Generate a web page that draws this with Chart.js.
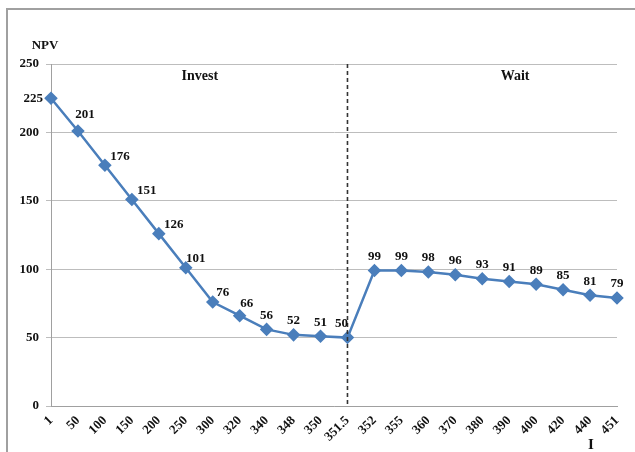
<!DOCTYPE html>
<html>
<head>
<meta charset="utf-8">
<script src="https://cdn.jsdelivr.net/npm/chart.js@4.4.0/dist/chart.umd.min.js"></script>
<style>
  html, body { margin: 0; padding: 0; background: #fff; }
  #frame { position: absolute; left: 6px; top: 8px; width: 629px; height: 444px;
           border-left: 2px solid #a0a0a0; border-top: 2px solid #a0a0a0; box-sizing: border-box; }
  #wrap { position: absolute; left: 0; top: 0; width: 635px; height: 452px; }
</style>
</head>
<body>
<div id="frame"></div>
<div id="wrap"><canvas id="c" width="635" height="452"></canvas></div>
<script>
const categories = ['1','50','100','150','200','250','300','320','340','348','350','351.5','352','355','360','370','380','390','400','420','440','451'];
const npvValues = [225,201,176,151,126,101,76,66,56,52,51,50,99,99,98,96,93,91,89,85,81,79];
const yTicks = [0,50,100,150,200,250];
const splitCategory = '351.5';
const regionLabels = ['Invest','Wait'];
const yAxisTitle = 'NPV';
const xAxisTitle = 'I';

const SERIF = '"Liberation Serif", "Times New Roman", serif';
const lineColor = '#4a7ebb';

const overlay = {
  id: 'overlay',
  afterDatasetsDraw(chart) {
    const ctx = chart.ctx;
    const xs = chart.scales.x;
    const area = chart.chartArea;
    ctx.save();
    // dashed split line
    const sx = xs.getPixelForValue(categories.indexOf(splitCategory));
    ctx.strokeStyle = '#333';
    ctx.lineWidth = 1.6;
    ctx.setLineDash([4, 3]);
    ctx.beginPath();
    ctx.moveTo(sx, area.top);
    ctx.lineTo(sx, area.bottom);
    ctx.stroke();
    ctx.setLineDash([]);

    // data labels
    ctx.fillStyle = '#111';
    ctx.font = 'bold 13px ' + SERIF;
    ctx.textBaseline = 'middle';
    const meta = chart.getDatasetMeta(0);
    const splitIdx = categories.indexOf(splitCategory);
    meta.data.forEach((pt, i) => {
      const v = npvValues[i];
      let x = pt.x, y = pt.y;
      if (i === 0) {
        ctx.textAlign = 'right'; x -= 8;
      } else if (i < splitIdx - 3) {
        ctx.textAlign = 'center';
        const dx = i === 1 ? 7 : (i <= 4 ? 15 : (i <= 6 ? 10 : 7));
        x += dx; y -= (i === 1 ? 16 : (i <= 6 ? 9 : 12));
      } else if (i < splitIdx) {
        ctx.textAlign = 'center'; y -= 14;
      } else if (i === splitIdx) {
        ctx.textAlign = 'center'; x -= 6; y -= 14;
      } else {
        ctx.textAlign = 'center'; y -= 14;
      }
      ctx.fillText(String(v), x, y);
    });

    // region labels
    ctx.font = 'bold 14px ' + SERIF;
    ctx.textAlign = 'center';
    ctx.fillText(regionLabels[0], area.left + (area.right - area.left) * 0.263, area.top + 12);
    ctx.fillText(regionLabels[1], area.left + (area.right - area.left) * 0.82, area.top + 12);

    // axis titles
    ctx.font = 'bold 13px ' + SERIF;
    ctx.fillText(yAxisTitle, area.left - 6, area.top - 18);
    ctx.font = 'bold 15px ' + SERIF;
    ctx.fillText(xAxisTitle, area.right - 26, area.bottom + 39);
    ctx.restore();
  }
};

new Chart(document.getElementById('c'), {
  type: 'line',
  data: {
    labels: categories,
    datasets: [{
      data: npvValues,
      borderColor: lineColor,
      backgroundColor: lineColor,
      borderWidth: 2.5,
      pointStyle: 'rectRot',
      pointRadius: 5,
      pointHoverRadius: 5,
      tension: 0,
      fill: false
    }]
  },
  options: {
    responsive: false,
    animation: false,
    events: [],
    layout: { padding: { top: 64, right: 18, left: 0, bottom: 0 } },
    plugins: { legend: { display: false }, tooltip: { enabled: false } },
    scales: {
      x: {
        offset: false,
        grid: { display: false, drawOnChartArea: false, drawTicks: true, tickLength: 5, color: '#a0a0a0' },
        border: { display: true, color: '#a0a0a0', width: 1 },
        ticks: {
          autoSkip: false, maxRotation: 45, minRotation: 45, color: '#111',
          font: { family: SERIF, size: 13, weight: 'bold' }, padding: 2
        },
        afterFit(scale) { scale.height = 46; }
      },
      y: {
        min: 0, max: 250,
        afterBuildTicks(scale) { scale.ticks = yTicks.map(v => ({ value: v })); },
        grid: { color: '#bdbdbd', lineWidth: 1, tickLength: 5 },
        border: { display: true, color: '#a0a0a0' },
        ticks: { color: '#111', font: { family: SERIF, size: 13, weight: 'bold' }, padding: 7 },
        afterFit(scale) { scale.width = 51; }
      }
    }
  },
  plugins: [overlay]
});
</script>
</body>
</html>
